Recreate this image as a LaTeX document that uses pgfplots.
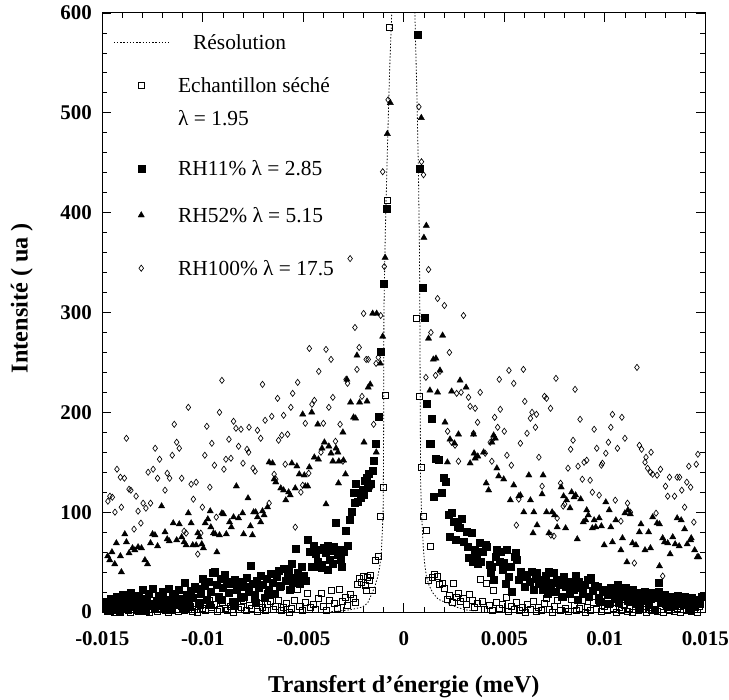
\documentclass[border=0pt]{standalone}
\usepackage{fontspec}
\setmainfont{Liberation Serif}
\usepackage{pgfplots}
\pgfplotsset{compat=1.18}
\pgfplotsset{
  mylegline/.style={legend image code/.code={\draw[##1] (0bp,7bp) -- (55bp,7bp);}},
  mylegmark/.style={legend image code/.code={\path (0bp,7bp) (55bp,7bp); \draw[mark repeat=2,mark phase=2,##1] plot coordinates {(0bp,7bp)(27.5bp,7bp)(55bp,7bp)};}},
}
\begin{document}
\begin{tikzpicture}
\begin{axis}[
  scale only axis, width=603bp, height=599bp,
  xmin=-150, xmax=150, ymin=0, ymax=600,
  xtick={-150,-100,-50,0,50,100,150},
  xticklabels={-0.015,-0.01,-0.005,0,0.005,0.01,0.015},
  ytick={0,100,200,300,400,500,600},
  minor x tick num=4, minor y tick num=4,
  major tick length=9bp, minor tick length=5bp,
  tick align=inside,
  tick style={line width=0.8bp, black},
  axis line style={line width=1bp},
  /pgf/number format/assume math mode=true,
  ticklabel style={font=\fontsize{21}{24}\selectfont\bfseries},
  xticklabel style={yshift=-16bp},
  yticklabel style={xshift=-7bp},
  xlabel={Transfert d'énergie (meV)},
  ylabel={Intensité ( ua )},
  label style={font=\fontsize{24.3}{28}\selectfont\bfseries},
  xlabel style={at={(axis description cs:0.5,0)}, anchor=base, yshift=-80bp},
  ylabel style={at={(axis description cs:-0.124,0.524)}, anchor=base},
  legend style={at={(axis description cs:0.018,0.970)}, anchor=north west,
    draw=none, fill=none, inner sep=0pt, row sep=0pt, column sep=9bp,
    font=\fontsize{21.5}{26}\selectfont,
    nodes={inner sep=0pt, text depth=, text height=},
    cells={anchor=base west}},
]
% Resolution
\addplot[mylegline, black, line width=0.8bp, dash pattern=on 1.4bp off 1.8bp] coordinates {
(-36,0.5) (-32,1) (-26,2.5) (-20.5,5) (-18,9) (-16.2,17) (-14.5,25) (-13,35) (-12,45) (-11.2,59) (-10.7,80) (-10.3,100) (-10.1,150) (-10,200) (-9.9,300) (-9.2,380) (-8.2,460) (-7.1,540) (-6,600) (-5,680) (-3,800) (0,900)
(3,800) (4.6,680) (5.5,600) (6.5,520) (7.3,440) (7.8,360) (8,300) (8.2,200) (8.35,132) (8.8,100) (9.7,65) (10.4,48) (11.3,35) (12.7,26) (14.5,19) (17,13) (21.3,9) (26,5) (31,2) (36,1)
};
\addlegendentry{\hspace*{15bp}Résolution\rule[-25bp]{0pt}{43bp}}
% Echantillon seche
\addplot[mylegmark, only marks, mark=square, mark size=3bp, mark options={line width=0.65bp, black}] coordinates {
(-148,3) (-147,8) (-146,1) (-145,5) (-144,0) (-143,2) (-142,6) (-141,1) (-139.5,4) (-138,10) (-137,2) (-136,0) (-134.5,3) (-133,7) (-132,1) (-130.5,5) (-129,2) (-128,9) (-126.5,0) (-125,3) (-124,6) (-122.5,1) (-121,4) (-120,8) (-118.5,2) (-117,0) (-116,5) (-114.5,11) (-113,3) (-112,1) (-110.5,6) (-109,2) (-108,4) (-106.5,9) (-105,1) (-104,3) (-102.5,0) (-101,7) (-100,4) (-98.5,2) (-97,12) (-96,5) (-94.5,8) (-93,1) (-92,3) (-90.5,10) (-89,4) (-88,2) (-86.5,6) (-85,0) (-84,9) (-82.5,3) (-81,5) (-80,12) (-78.5,2) (-77,7) (-76,4) (-74.5,14) (-73,1) (-72,9) (-70.5,5) (-69,2) (-68,8) (-66.5,11) (-65,3) (-64,6) (-62.5,12) (-61,2) (-60,5) (-58.5,9) (-57,0) (-56,4) (-54.5,12) (-53,23) (-52,6) (-50.5,2) (-49,10) (-48,19) (-46.5,5) (-45,8) (-44,3) (-42.5,14) (-41,19) (-40,6) (-38.5,2) (-37,12) (-36,22) (-34.5,9) (-33,4) (-32,23) (-30.5,11) (-29,15) (-28,7) (-26.5,18) (-25,14) (-24,10) (-23,28) (-22,34) (-21,30) (-20,36) (-19,27) (-18.5,22) (-18,35) (-17,32) (-16.5,37) (-15.5,22) (-14,52) (-12.8,56) (-11.6,96) (-10.3,125) (-9,217) (-8.2,412) (-7,586)
(6,294) (7.5,216) (8.5,145) (9.7,96) (11,82) (12,32) (13.3,66) (14,35) (15,38) (16.5,36) (17.5,28) (19,29) (20,24) (21.5,13) (22.5,17) (24,10) (24.5,29) (26,15) (27,19) (28,11) (29.5,14) (31,8) (32.5,18) (34,12) (35,5) (36.5,9) (38,33) (39,11) (40,3) (41,29) (42.5,7) (44,2) (44.5,22) (46,10) (47.5,4) (49,8) (51,15) (52,1) (53.5,6) (55,3) (56,10) (57.5,2) (59,5) (60.5,0) (61.5,8) (63,3) (64.5,11) (66,1) (67,5) (68.5,2) (70,9) (71,14) (72.5,3) (74,0) (75,6) (76.5,12) (78,2) (79.5,15) (80.5,4) (82,1) (83.5,13) (85,7) (86,2) (87.5,4) (89,12) (90.5,0) (91.5,5) (93,2) (94.5,10) (96,3) (97,12) (98.5,1) (100,6) (101.5,2) (102.5,9) (104,4) (105.5,0) (107,5) (108,2) (109.5,7) (111,1) (112,4) (113.5,0) (115,6) (116.5,2) (117.5,8) (119,3) (120.5,0) (122,5) (123,2) (124.5,9) (126,1) (128,3) (129,0) (130.5,6) (132,2) (133,5) (134.5,1) (136,4) (137.5,0) (139,7) (140.5,2) (141.5,5) (143,1) (144.5,3) (146,0) (147,6)
};
\addlegendentry{\begin{tabular}[t]{@{}l@{}}Echantillon séché\\[7bp]λ = 1.95\rule[-32bp]{0pt}{1bp}\end{tabular}}
% RH11%
\addplot[mylegmark, only marks, mark=square*, mark size=3.5bp, mark options={black}] coordinates {
(-148,10) (-147,5) (-146,13) (-145,3) (-144,8) (-143,15) (-142,6) (-141,11) (-140,17) (-139,4) (-138,9) (-137,14) (-136,19) (-135,7) (-134,12) (-133,2) (-132,16) (-131,10) (-130,22) (-129,5) (-128,13) (-127,18) (-126,8) (-125,23) (-124,3) (-123,11) (-122,16) (-121,6) (-120,20) (-119,12) (-118,2) (-117,23) (-116,9) (-115,15) (-114,18) (-113,7) (-112,22) (-111,13) (-110,4) (-109,29) (-108,17) (-107,10) (-106,21) (-105,14) (-104,25) (-103,23) (-102,8) (-101,18) (-100,33) (-99,26) (-98,12) (-97,30) (-96,20) (-95,39) (-94,40) (-93,27) (-92,15) (-91,33) (-90,24) (-89,37) (-88,30) (-87,19) (-86,28) (-85,10) (-84,32) (-83,22) (-82,26) (-81,14) (-80,30) (-79,25) (-78,34) (-77,20) (-76,46) (-75,28) (-74,17) (-73,31) (-72,24) (-71,36) (-70,27) (-69,14) (-68,33) (-67,22) (-66,38) (-65,29) (-64,18) (-63,35) (-62,41) (-61,26) (-60,43) (-59,31) (-58,37) (-57,22) (-56,48) (-55,34) (-54,63) (-53,39) (-52,28) (-51,45) (-50,36) (-49,31) (-48,72) (-47,60) (-46,45) (-45,66) (-44,58) (-43,50) (-42,62) (-41,47) (-40,64) (-39,59) (-38,66) (-37,52) (-36,61) (-35,65) (-34,89) (-33,57) (-32,62) (-31,45) (-30,60) (-29,81) (-28,66) (-27,92) (-26,100) (-25,119) (-24.5,109) (-24,129) (-23,110) (-22.5,120) (-21.5,114) (-20.5,123) (-20,117) (-19.5,132) (-18.7,135) (-18,125) (-17.3,139) (-16.5,129) (-15.7,142) (-14.8,152) (-14,169) (-12.3,196) (-11.3,261) (-10.2,329) (-8.7,404)
(-147.5,1) (-144.5,2) (-141.5,0) (-137.5,3) (-133.5,5) (-128.5,1) (-124.5,6) (-119.5,4) (-115.5,2) (-111.5,8) (-106.5,5) (-101.5,9) (-96.5,7) (-90.5,12) (-84.5,6) (-79.5,15) (-73.5,9) (-67.5,18) (-61.5,25) (-57.5,40) (-55.5,30) (-52.5,35) (-50,32) (-44.5,45) (-41,44) (-38,42) (-35.5,48) (-31.5,52)
(7,578) (7.8,444) (9.3,325) (10.2,295) (11.3,209) (12.7,169) (13.3,169) (13.8,194) (14.7,115) (16,154) (17.2,153) (18.8,120) (19.7,135) (21,131) (22.2,97) (23,75) (23.8,99) (25,90) (26,72) (27,85) (28,84) (28.8,93) (30,70) (31.3,80) (32,65) (32.5,54) (33.8,79) (34.5,50) (35.5,62) (36.3,57) (37,48) (38,69) (38.5,50) (39.5,60) (40.5,67) (41.3,65) (42.5,47) (43,39) (43.8,45) (44.7,32) (45.5,55) (46.3,62) (47.5,50) (48,60) (49,42) (49.7,49) (50.5,28) (51.3,62) (52,35) (53,45) (53.8,20) (55,55) (55.5,59) (56.3,52) (57,32) (58,40) (58.8,35) (60,25) (61.3,37) (62.5,30) (63.8,40) (64.5,22) (65.5,33) (66.3,39) (67,28) (68,32) (69,22) (69.7,29) (70.5,36) (71.5,18) (72.2,40) (73,24) (73.8,29) (74.7,39) (75.5,20) (76.3,32) (77.5,27) (78.5,15) (79.7,35) (80.5,25) (81.5,30) (82.5,18) (83.5,28) (84.5,22) (85.5,36) (86.5,12) (87.2,30) (88,24) (89,19) (90,27) (91.3,32) (92,15) (93,34) (94,21) (95,26) (96.3,25) (97,14) (98,10) (99,20) (100.5,22) (101.5,17) (102,8) (103,24) (104,19) (105,13) (106.3,27) (106.7,9) (107.5,20) (108.5,15) (109.5,22) (110.5,24) (111.5,11) (112.5,18) (113.8,22) (114.5,14) (115.5,8) (116.7,19) (117.2,4) (118,15) (119,11) (119.7,20) (121,16) (122,7) (123,13) (123.8,19) (124.7,2) (125.5,14) (126.7,29) (127,20) (128,10) (128.8,16) (129.7,17) (130.5,8) (131.3,5) (132,13) (133,15) (134,10) (135,6) (136.3,16) (137,12) (138,8) (139,14) (139.7,15) (140.5,10) (141.5,6) (142.2,2) (143,14) (143.8,9) (144.7,5) (145.5,12) (146.3,12) (147,8) (148,15)
};
\addlegendentry{RH11\% λ = 2.85\rule[-29bp]{0pt}{47bp}}
% RH52%
\addplot[mylegmark, only marks, mark=triangle*, mark size=3.6bp, mark options={black}] coordinates {
(-147.3,56) (-146.3,52) (-145.2,60) (-143.8,48) (-143,69) (-141,56) (-140.5,40) (-138.8,78) (-138,70) (-136.7,59) (-135,64) (-133.8,62) (-132.2,65) (-130.5,64) (-128.8,52) (-127.5,48) (-126,69) (-125,78) (-123.8,77) (-122.5,66) (-120.5,106) (-118.8,80) (-117.7,73) (-116.7,71) (-114.7,89) (-113,72) (-111.7,88) (-110.5,75) (-109.3,70) (-108.3,67) (-107.2,99) (-105.8,89) (-105,67) (-103.3,67) (-102.5,79) (-101.7,75) (-100.5,68) (-99.7,64) (-98.8,89) (-97.5,93) (-96.3,101) (-96,85) (-94.7,79) (-93.8,78) (-93,60) (-91.7,77) (-90.5,99) (-89.7,98) (-88.3,78) (-86.7,90) (-85.8,85) (-84.7,95) (-83.3,126) (-82.2,94) (-80.2,99) (-79.7,78) (-77.5,114) (-76.3,86) (-75.3,77) (-74.7,100) (-73.7,100) (-72.8,95) (-71.2,90) (-70.3,101) (-69.5,97) (-67.8,105) (-67,150) (-65.3,149) (-64.5,133) (-63.7,130) (-61.2,124) (-59.8,122) (-58.7,112) (-57.3,120) (-56.5,117) (-55.7,149) (-54,124) (-53.2,146) (-52,138) (-50.3,198) (-49.5,137) (-49,126) (-47.8,126) (-47,145) (-45.8,200) (-44.5,155) (-42.8,188) (-42.5,153) (-40.7,164) (-39.5,170) (-38.7,108) (-37.3,166) (-36.2,159) (-35.3,151) (-33.7,164) (-32.8,160) (-32.5,129) (-32.3,151) (-30.3,180) (-30,152) (-29,138) (-28.3,233) (-26.5,210) (-25,195) (-24,194) (-23.3,257) (-22,210) (-19.8,170) (-18.3,211) (-17.7,225) (-16.7,228) (-15.5,299) (-13.7,160) (-13.5,299) (-11.7,249) (-10.5,276) (-9.3,355) (-8.2,479) (-6.7,510)
(8.7,495) (10,375) (11.2,387) (12.3,274) (13,222) (14.7,253) (16,254) (16.8,220) (18,242) (19.3,277) (20.5,190) (21.7,150) (23,173) (23.8,221) (25.2,169) (27.2,178) (28,232) (31,225) (33,149) (34.7,178) (35,159) (35.5,154) (36.8,156) (39.7,160) (41,129) (42.2,122) (43.8,170) (44.7,177) (45.5,174) (46.3,144) (47.2,136) (49.7,133) (53,112) (54.7,127) (57.2,116) (58,117) (59.7,100) (62.2,137) (63,112) (64.3,79) (64.7,100) (66.3,87) (68.8,118) (69.3,137) (71,100) (72.2,79) (73.8,100) (75,97) (76.3,85) (78.3,125) (79.5,116) (80.5,84) (81,112) (82.7,104) (83.5,120) (84.7,115) (85.5,117) (86.3,73) (88,113) (89.3,90) (90.5,92) (91,102) (91.8,97) (93.8,84) (94.7,92) (95.5,85) (97.2,94) (98.3,86) (99.7,67) (100.5,110) (102.2,102) (103,85) (103.8,70) (105.5,92) (108,62) (108.8,74) (110,99) (111,50) (111.5,102) (112.7,98) (113.8,69) (115.5,67) (117.2,80) (118,88) (120,62) (121.8,80) (122.7,64) (123.8,95) (126,89) (127.2,46) (127.2,88) (128.8,74) (129.7,70) (131.3,69) (132.5,58) (133.8,75) (135,68) (136,94) (137,66) (138,92) (139.7,83) (141,68) (142.7,72) (143,74) (144.7,62) (146,55) (146.7,55)
};
\addlegendentry{RH52\% λ = 5.15\rule[-35bp]{0pt}{53bp}}
% RH100%
\addplot[mylegmark, only marks, mark=diamond, mark size=3.1bp, mark options={line width=0.65bp, black}] coordinates {
(-147.2,111) (-146.2,116) (-145,115) (-143.7,100) (-142.7,143) (-141,135) (-140.5,105) (-139,134) (-138,174) (-136.7,123) (-135.8,122) (-134.2,83) (-133.2,116) (-132.2,101) (-130.8,89) (-129.7,109) (-128.3,104) (-127.2,140) (-126,109) (-124.7,143) (-123.7,164) (-122.5,134) (-121.5,153) (-118.8,122) (-117.7,139) (-116.5,134) (-115.2,157) (-114.2,188) (-113,170) (-111.7,164) (-110.5,134) (-109.3,81) (-108.3,79) (-107.2,205) (-105.8,128) (-104.7,113) (-103.3,130) (-102.5,58) (-101,79) (-100.2,105) (-99,157) (-98,186) (-96.5,125) (-95.5,169) (-94.2,147) (-93.3,95) (-91.7,200) (-90.5,232) (-89.5,143) (-88.5,153) (-87,173) (-86,154) (-84.7,191) (-83.5,184) (-82.2,166) (-81,183) (-80,149) (-78,163) (-77.2,160) (-77,185) (-75,144) (-74,141) (-72.8,182) (-71.2,174) (-70.3,228) (-69,192) (-67,109) (-65.7,196) (-64.5,138) (-63.7,133) (-62.8,214) (-62.3,172) (-60.7,177) (-59.8,197) (-59,148) (-57.8,178) (-56.2,205) (-55.3,219) (-54,85) (-52.8,230) (-51.2,120) (-50.3,127) (-49,189) (-47.3,139) (-47,264) (-45.7,208) (-44.5,212) (-42.3,241) (-41.2,160) (-40,189) (-38.7,263) (-37.3,205) (-36.2,253) (-35.3,215) (-34,171) (-31.7,188) (-30.3,151) (-28.7,233) (-28,229) (-26.7,354) (-24.3,285) (-23.3,243) (-22.2,265) (-20.8,216) (-20,299) (-18.7,253) (-17.7,253) (-16.2,125) (-15,188) (-13.8,249) (-12.7,255) (-11.5,297) (-10.5,441) (-9.7,346) (-7.8,513)
(7.5,506) (8.8,451) (9.8,438) (11,235) (12.3,343) (13.5,280) (15.8,237) (16.8,314) (18,241) (20.2,307) (21.8,181) (22.7,260) (23.8,170) (25.5,167) (26.3,219) (27.2,151) (28.5,220) (29.7,297) (32.2,215) (33,206) (34.7,179) (35.5,204) (36.7,190) (38,220) (40.5,159) (43,170) (43.8,151) (44.7,174) (45.2,195) (46.7,185) (47.5,233) (48,203) (50,181) (51.3,157) (52.3,242) (53.5,147) (54.7,229) (56,87) (57.2,113) (58,169) (59.5,243) (60.2,211) (61.3,179) (63,194) (63.8,200) (65.5,185) (66,198) (67.2,155) (68.8,126) (70,216) (71,214) (73,204) (73.2,77) (74.7,76) (75.7,234) (76.3,94) (78,129) (79.3,106) (80,108) (81.7,144) (83,163) (84.2,172) (85.2,223) (86.7,146) (87.7,193) (88.8,133) (89.7,150) (91,152) (92.7,132) (93.8,120) (94.7,183) (96,164) (97.2,117) (98.3,147) (98.8,149) (100.5,159) (101.8,170) (103,185) (103.8,198) (105.2,112) (106.3,164) (108,91) (108.5,195) (110,174) (111.3,109) (112.7,100) (114.7,49) (116,245) (117.2,167) (118.3,163) (120,150) (120.5,155) (121.3,144) (122.7,140) (123,160) (123.8,138) (125.5,99) (126,137) (127.7,143) (128.8,36) (130.2,126) (131.3,116) (132.2,135) (134.7,116) (136,135) (137.2,135) (138.3,122) (139.7,105) (140.8,130) (141.8,146) (142.7,125) (144.3,90) (145.5,148) (146.3,158)
};
\addlegendentry{RH100\% λ = 17.5\rule[-8bp]{0pt}{26bp}}
\end{axis}
\pgfresetboundingbox
\path[use as bounding box] (current axis.south west) ++(-102.3bp,-88bp) rectangle ++(729bp,700bp);
\end{tikzpicture}
\end{document}
